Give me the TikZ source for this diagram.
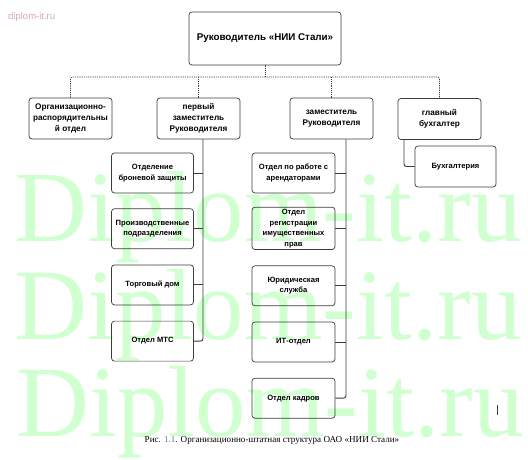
\documentclass[tikz,border=0pt]{standalone}
\usepackage{fontspec}
\setmainfont{Liberation Serif}
\setsansfont{Liberation Sans}
\usepackage{tikz}
\usetikzlibrary{positioning, calc}

\definecolor{wmgreen}{RGB}{208,255,208}
\definecolor{wmpink}{RGB}{214,170,170}
\definecolor{linegray}{RGB}{60,60,60}
\definecolor{numgray}{RGB}{110,120,150}

\begin{document}
\begin{tikzpicture}[
            x=1pt, y=-1pt,
            unit/.style={draw=linegray, line width=0.7pt, rounded corners=3pt, align=center,
                         minimum width=83pt, minimum height=41pt, inner sep=2pt,
                         font=\sffamily\bfseries\fontsize{8.2}{11.2}\selectfont},
            subunit/.style={unit, minimum width=82pt, minimum height=40pt,
                         font=\sffamily\bfseries\fontsize{7.6}{10.5}\selectfont},
            bus/.style={draw=linegray, line width=0.6pt, dash pattern=on 1.2pt off 1pt},
            link/.style={draw=linegray, line width=0.9pt, rounded corners=2.5pt},
            wmark/.style={text=wmgreen, font=\fontsize{101}{101}\selectfont, anchor=base west, inner sep=0pt}
        ]
        \useasboundingbox (0,0) rectangle (528,460);

        % Wasserzeichen
        \node[wmark] (wm1) at (14,241) {Diplom-it.ru};
        \node[wmark] (wm2) at (14,339) {Diplom-it.ru};
        \node[wmark] (wm3) at (16,436) {Diplom-it.ru};
        \node[text=wmpink, font=\sffamily\fontsize{9.5}{11}\selectfont, anchor=west, inner sep=0pt] (site) at (8,17) {diplom-it.ru};

        % Leitung
        \node[unit, minimum width=152pt, minimum height=53pt, font=\sffamily\bfseries\fontsize{9.8}{12}\selectfont] (head) at (265,38.5) {Руководитель «НИИ Стали»};

        % Ebene 2
        \node[unit] (orgotd) at (70.5,118.5) {Организационно-\\распорядительны\\й отдел};
        \node[unit] (perv) at (198.5,118.5) {первый\\заместитель\\Руководителя};
        \node[unit] (zam) at (331.5,118.5) {заместитель\\Руководителя};
        \node[unit] (glbuh) at (439.5,119) {главный\\бухгалтер};

        % Ebene 3, links
        \node[subunit] (bron) at (152.5,173) {Отделение\\броневой защиты};
        \node[subunit, below=15pt of bron] (proizv) {Производственные\\подразделения};
        \node[subunit, below=15.5pt of proizv] (torg) {Торговый дом};
        \node[subunit, below=15.5pt of torg] (mts) {Отдел МТС};

        % Ebene 3, rechts
        \node[subunit, minimum width=83pt] (arend) at (293.5,173) {Отдел по работе с\\арендаторами};
        \node[subunit, minimum width=83pt, below=13.5pt of arend] (reg) {Отдел\\регистрации\\имущественных\\прав};
        \node[subunit, minimum width=83pt, below=15.5pt of reg] (yur) {Юридическая\\служба};
        \node[subunit, minimum width=83pt, below=15.5pt of yur] (it) {ИТ-отдел};
        \node[subunit, minimum width=83pt, below=15.5pt of it] (kadr) {Отдел кадров};

        \node[subunit, minimum width=81pt, minimum height=41pt] (buh) at (455.5,166.5) {Бухгалтерия};

        % Kanten
        \coordinate (busy) at (265,77);
        \draw[bus] (head.south) -- (busy);
        \draw[bus, rounded corners=2pt] (orgotd.north) -- (orgotd.north |- busy) -- (glbuh.north |- busy) -- (glbuh.north);
        \draw[bus] (perv.north) -- (perv.north |- busy);
        \draw[bus] (zam.north) -- (zam.north |- busy);

        \coordinate (ltrunk) at ([xshift=4.5pt]perv.south);
        \draw[link] (ltrunk) |- (mts.east);
        \foreach \u in {bron, proizv, torg}
            \draw[link] (\u.east) -- (\u.east -| ltrunk);

        \coordinate (rtrunk) at ([xshift=14.5pt]zam.south);
        \draw[link] (rtrunk) |- (kadr.east);
        \foreach \u in {arend, reg, yur, it}
            \draw[link] (\u.east) -- (\u.east -| rtrunk);

        \draw[link] ([xshift=-35.5pt]glbuh.south) |- (buh.west);

        % Unterschrift
        \node[font=\fontsize{9.1}{11}\selectfont, inner sep=0pt] (caption) at (272,440) {Рис. \textcolor{numgray}{1.1}. Организационно-штатная структура ОАО «НИИ Стали»};
        \draw[linegray, line width=0.8pt] (497,405) coordinate (cur) -- ++(0,10);

    \end{tikzpicture}
\end{document}
